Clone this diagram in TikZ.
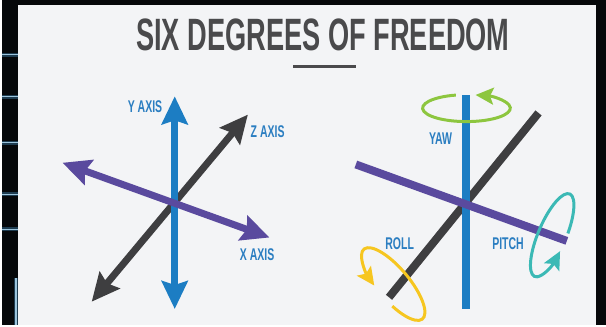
\documentclass[tikz,border=0pt]{standalone}
\usepackage{fontspec}
\usetikzlibrary{arrows.meta}
\newfontfamily\titlefont[FakeStretch=0.60]{Liberation Sans}
\newfontfamily\labelfont[FakeStretch=0.62]{Liberation Sans}
\definecolor{bgdark}{HTML}{06080A}
\definecolor{panel}{HTML}{F3F4F6}
\definecolor{axblue}{HTML}{1C7DC3}
\definecolor{axpurple}{HTML}{5A4A9E}
\definecolor{axdark}{HTML}{3E3E40}
\definecolor{rotgreen}{HTML}{8DC63F}
\definecolor{rotteal}{HTML}{3BB9B5}
\definecolor{rotyellow}{HTML}{F6C620}
\definecolor{titlec}{HTML}{4A4A4C}
\definecolor{labelc}{HTML}{2B7EC1}
\definecolor{glowc}{HTML}{2E5F80}
\definecolor{glowcore}{HTML}{9CC4DC}
\tikzset{
  axarrow/.style={line width=7pt, {Stealth[length=28pt,width=26pt,inset=4pt]}-{Stealth[length=28pt,width=26pt,inset=4pt]}},
  axline/.style={line width=8pt},
  rotarrow/.style={line width=3pt, -{Stealth[length=18pt,width=17pt,inset=3.5pt]}},
  axlabel/.style={font=\labelfont\bfseries\fontsize{17}{19}\selectfont, text=labelc, inner sep=0pt, anchor=center},
  glowline/.style={line width=4pt, glowc, opacity=0.6},
  glowthin/.style={line width=1.2pt, glowcore},
}
\begin{document}
\begin{tikzpicture}[x=1pt,y=1pt]
% background and panel
\fill[bgdark] (0,0) rectangle (606,326);
\fill[panel] (16,0) rectangle (596,321);
% left strip glow lines
\foreach \yy in {55,97,143,195,230} {
  \draw[glowline] (0,326-\yy) -- (16,326-\yy);
  \draw[glowthin] (0,326-\yy) -- (16,326-\yy);
}
\draw[glowline] (14,0) -- (14,47);
\draw[glowthin] (14,0) -- (14,47);

% title
\node[font=\titlefont\bfseries\fontsize{45.5}{48}\selectfont, text=titlec, inner sep=0pt, anchor=base] (title) at (322,275) {SIX DEGREES OF FREEDOM};
\coordinate (ulL) at (292,259);
\coordinate (ulR) at (355,259);
\draw[line width=3pt, titlec] (ulL) -- (ulR);

% ---- left diagram: axes ----
\coordinate (zTop) at (246.7,211);
\coordinate (zBot) at (90,23.3);
\coordinate (yTop) at (173.3,229.3);
\coordinate (yBot) at (173.3,16);
\coordinate (xLeft) at (60.7,162.7);
\coordinate (xRight) at (268.3,87.7);
\draw[axarrow, axdark] (zBot) -- (zTop);
\draw[axarrow, axblue] (yBot) -- (yTop);
\draw[axarrow, axpurple] (xLeft) -- (xRight);
\node[axlabel] (ylab) at (143.5,218.5) {Y AXIS};
\node[axlabel] (zlab) at (266.5,194) {Z AXIS};
\node[axlabel] (xlab) at (256,70) {X AXIS};

% ---- right diagram: rotations ----
\coordinate (rzTop) at (538.3,212.7);
\coordinate (rzBot) at (388.3,27.7);
\coordinate (ryTop) at (465.7,231);
\coordinate (ryBot) at (465.7,16);
\coordinate (rxLeft) at (355,161);
\coordinate (rxRight) at (566.7,84.3);
\draw[axline, axdark] (rzBot) -- (rzTop);
\draw[axline, axblue] (ryBot) -- (ryTop);
\draw[axline, axpurple] (rxLeft) -- (rxRight);

% yaw (green)
\begin{scope}[shift={(466,217.5)}]
\draw[rotarrow, rotgreen] (104:44pt and 13.5pt) arc[start angle=104, end angle=438, x radius=44pt, y radius=13.5pt];
\end{scope}
% pitch (teal)
\begin{scope}[shift={(552,90)}, rotate=67]
\draw[rotarrow, rotteal] (-80:45pt and 14pt) arc[start angle=-80, end angle=255, x radius=45pt, y radius=14pt];
\end{scope}
% roll (yellow)
\begin{scope}[shift={(392.5,41)}, rotate=-50]
\draw[rotarrow, rotyellow] (-69:45.7pt and 16pt) arc[start angle=-69, end angle=256, x radius=45.7pt, y radius=16pt];
\end{scope}

\node[axlabel] (yawlab) at (440,186.5) {YAW};
\node[axlabel] (pitchlab) at (507.7,82) {PITCH};
\node[axlabel] (rolllab) at (399,82) {ROLL};
\end{tikzpicture}
\end{document}
